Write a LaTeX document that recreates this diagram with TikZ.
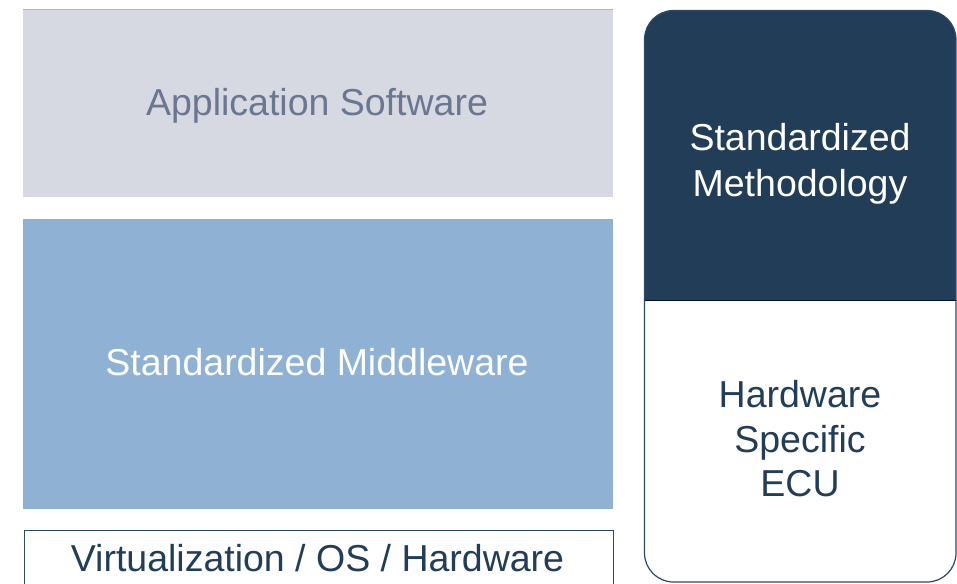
\documentclass[tikz,border=0pt]{standalone}
\usepackage{fontspec}
\setmainfont{Liberation Sans}
\definecolor{appfill}{HTML}{D6D9E1}
\definecolor{apptext}{HTML}{6B7691}
\definecolor{mwfill}{HTML}{8FB1D3}
\definecolor{navy}{HTML}{223D57}
\definecolor{navyline}{HTML}{2B4A66}
\definecolor{topline}{HTML}{B4B6BA}
\begin{document}
\begin{tikzpicture}[x=1pt,y=-1pt,
  layer/.style={draw=none, rectangle, inner sep=0pt, anchor=north west},
  txt/.style={inner sep=0pt, anchor=base, font=\fontsize{37.5}{45}\selectfont}]
\useasboundingbox (0,0) rectangle (957,583);
\clip (0,0) rectangle (957,583);
% left stack
\node[layer, fill=appfill, minimum width=590pt, minimum height=187pt] (app) at (23,10) {};
\draw[topline, line width=1pt] (app.north west) -- (app.north east);
\node[layer, fill=mwfill, minimum width=590pt, minimum height=290pt] (mw) at (23,219) {};
\node[layer, draw=navyline, line width=1.3pt, fill=white, minimum width=589pt, minimum height=80pt] (virt) at (23.5,529.5) {};
\node[txt, text=apptext] (apptxt) at (317,115) {Application Software};
\node[txt, text=white] (mwtxt) at (317,375) {Standardized Middleware};
\node[txt, text=navy] (virttxt) at (317.5,571) {Virtualization / OS / Hardware};
% right column
\coordinate (rtl) at (644.5,10.5);
\coordinate (rbr) at (956,582);
\begin{scope}
  \clip[rounded corners=29pt] (rtl) rectangle (rbr);
  \fill[white] (rtl) rectangle (rbr);
  \fill[navy] (rtl) rectangle (956,300);
\end{scope}
\draw[navyline, line width=1.2pt, rounded corners=29pt] (rtl) rectangle (rbr);
\draw[black!70!navy, line width=0.8pt] (644.5,300) -- (956,300);
\node[txt, text=white] (m1) at (800,150) {Standardized};
\node[txt, text=white] (m2) at (800,196) {Methodology};
\node[txt, text=navy] (h1) at (800,407) {Hardware};
\node[txt, text=navy] (h2) at (800,452) {Specific};
\node[txt, text=navy] (h3) at (800,496) {ECU};
\end{tikzpicture}
\end{document}
